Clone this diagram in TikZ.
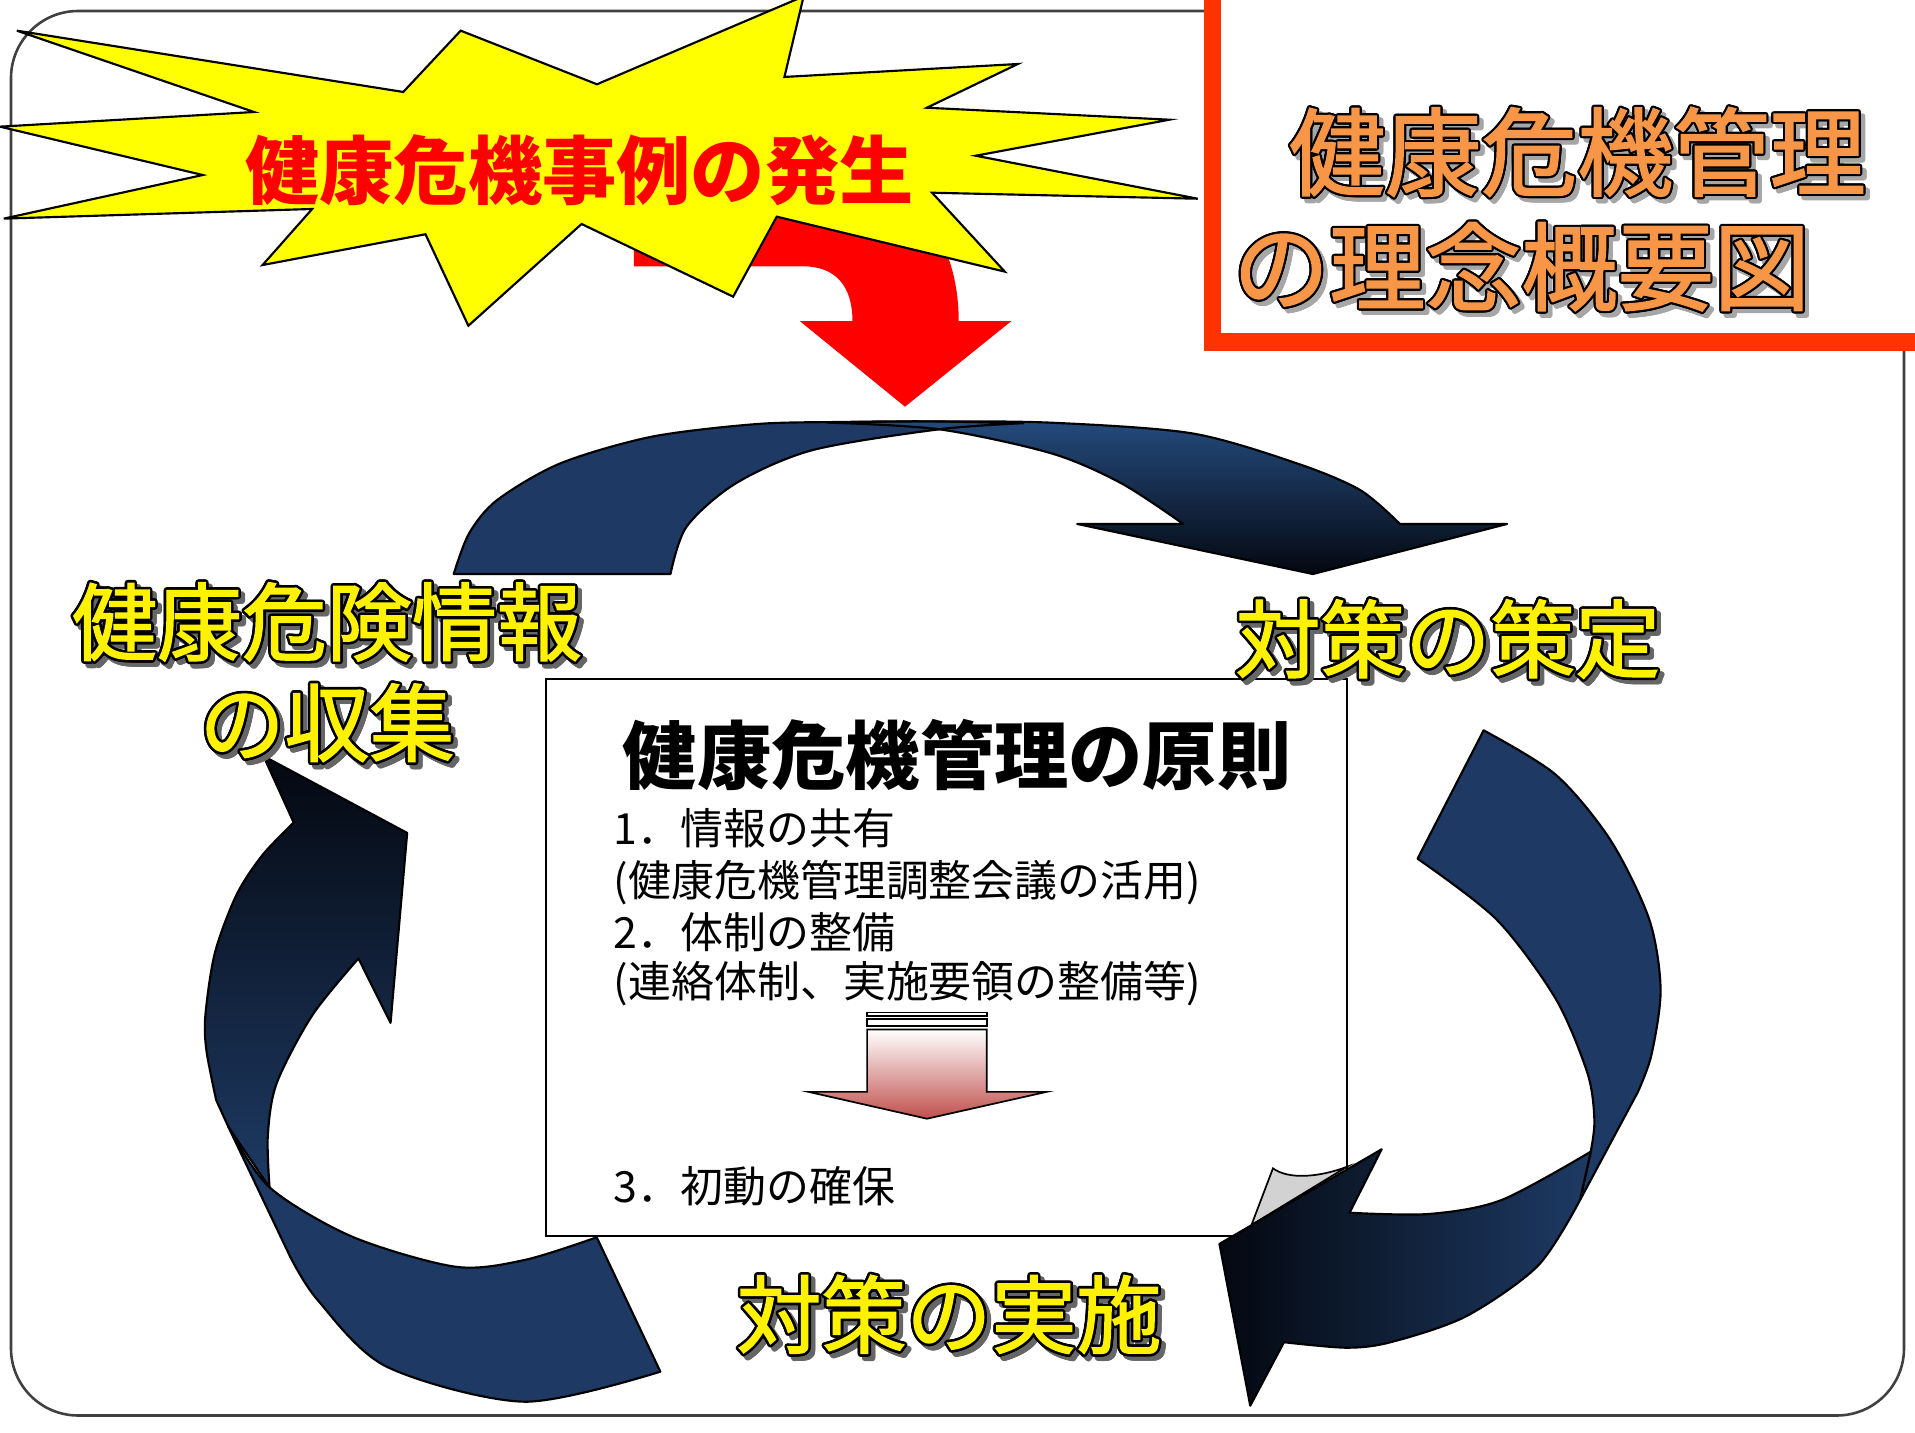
\documentclass[tikz,border=0pt]{standalone}
\usepackage{fontspec}
\usepackage{contour}
\newfontfamily\jpfont{Noto Sans CJK JP}
\newfontfamily\jpheavy{Noto Sans CJK JP}[FakeBold=1.6]

\definecolor{navy}{RGB}{30,58,100}
\definecolor{navylight}{RGB}{36,74,124}
\definecolor{navydark}{RGB}{4,8,16}
\definecolor{starfill}{RGB}{255,255,0}
\definecolor{titlered}{RGB}{255,51,0}
\definecolor{titleorange}{RGB}{247,150,70}
\definecolor{curlgray}{RGB}{210,210,210}
\definecolor{pinkred}{RGB}{192,80,77}

% outlined text with a drop shadow: outline width, fill, shadow, text
\newcommand\ringed[4]{%
  \contourlength{#1}%
  \makebox[0pt][l]{\hspace*{1pt}\raisebox{-1pt}{\color{#3}\contour{#3}{#4}}}%
  {\color{#2}\contour{black}{#4}}}

\tikzset{
  band/.style={draw=black, line width=0.5pt, line join=round},
  cyclelabel/.style={font=\jpheavy\fontsize{19.8}{24}\selectfont, inner sep=0pt},
  bigtitle/.style={font=\jpheavy\fontsize{22.4}{27}\selectfont, inner sep=0pt},
  itemline/.style={font=\jpfont\fontsize{10}{12}\selectfont, anchor=base west, inner sep=0pt},
}

\begin{document}
\begin{tikzpicture}[x=0.1mm, y=-0.1mm]
\useasboundingbox (0,0) rectangle (1568,1173);
\clip (0,0) rectangle (1568,1173);

% frame
\draw[black!75, line width=0.6pt, rounded corners=5.5mm] (9,9) rectangle (1559,1159);

% red arrow behind the star
\fill[red] (519,131) -- (655,131) .. controls (735,131) and (785,185) .. (785,263)
  -- (828,263) -- (741,333) -- (655,263) -- (698,263)
  .. controls (698,235) and (685,218) .. (657,218) -- (519,218) -- cycle;

% explosion
\draw[fill=starfill, line width=0.5pt] (13.8,25.1) -- (208,91.7) -- (0,103.7) -- (166,143.3)
  -- (3.1,179) -- (255.6,171.1) -- (215,217) -- (348.4,191.8) -- (383.5,266.7)
  -- (476.2,183.4) -- (600.3,242.9) -- (636,177.4) -- (822.7,222.4) -- (763.2,157.8)
  -- (980.7,162.7) -- (798.9,127.5) -- (957.5,98) -- (758.9,88.2) -- (833.4,52.4)
  -- (642.3,63) -- (658,-3) -- (488.8,69) -- (377.2,25.1) -- (330.2,75.3) -- cycle;
\node[font=\jpfont\bfseries\fontsize{17.3}{20}\selectfont, text=red, inner sep=0pt] (event) at (474.5,139) {健康危機事例の発生};

% title box
\draw[titlered, fill=white, line width=1.4mm] (993,-20) rectangle (1580,280);
\node[bigtitle] (title1) at (1291.5,127) {\ringed{0.5pt}{titleorange}{black!35}{健康危機管理}};
\node[bigtitle] (title2) at (1245.8,221) {\ringed{0.5pt}{titleorange}{black!35}{の理念概要図}};

% upper arrow
\path[save path=\topleft] (549,470) -- (371.5,470)
  -- plot[smooth] coordinates {(371.5,470) (384.1,436.7) (407.1,409.4) (458.8,379.4) (533.5,357.6) (619.6,347.2) (688.5,345.5) (760,345) (838,346.5)}
  -- plot[smooth] coordinates {(838,346.5) (769,351.5) (665.5,368.5) (602.4,395.8) (562.2,431.2) (549,470)} -- cycle;
\fill[navy, use path=\topleft];
\shade[band, top color=navylight, bottom color=navydark] (677,346)
  -- plot[smooth] coordinates {(677,346) (760,345) (860.9,346.1) (975.8,354.8) (1061.9,379.4) (1113.6,401.2) (1146.3,429)}
  -- (1234,429) -- (1075,470) -- (882,429) -- (968.8,429)
  -- plot[smooth] coordinates {(968.8,429) (918.3,395.8) (860.9,371.2) (769,351.5) (677,346)} -- cycle;
\draw[band, use path=\topleft];

% left arrow
\shade[band, top color=navydark, bottom color=navy] (215.7,619) -- (333.4,682) -- (319.8,837.5) -- (293.5,784.8)
  -- plot[smooth] coordinates {(293.5,784.8) (255.9,831) (226.6,886.8) (219.3,929.6) (220.7,972.2)}
  -- (186.9,922.5) -- (177,900.7)
  -- plot[smooth] coordinates {(177,900.7) (169,860) (168.2,831) (176,780) (193.7,732.6) (215,700) (240.5,673.5)} -- cycle;
\filldraw[band, fill=navy] (186.9,922.5)
  -- plot[smooth] coordinates {(186.9,922.5) (220.7,972.2) (288.4,1012.6) (373,1037.2) (429.4,1031.7) (488.6,1013.1)}
  -- (540.7,1123.1)
  -- plot[smooth] coordinates {(540.7,1123.1) (429.4,1147.7) (316.5,1119) (260.1,1064.5) (237.6,1029)} -- cycle;

% principles box
\draw[fill=white, line width=0.5pt] (447,556) rectangle (1103,1012);
\node[font=\jpfont\bfseries\fontsize{17.3}{20}\selectfont, inner sep=0pt] (boxtitle) at (783.7,618) {健康危機管理の原則};
\node[itemline] (item1) at (502,691.3) {1．情報の共有};
\node[itemline] (item2) at (502,733.9) {(健康危機管理調整会議の活用)};
\node[itemline] (item3) at (502,776.3) {2．体制の整備};
\node[itemline] (item4) at (502,816.9) {(連絡体制、実施要領の整備等)};
\node[itemline] (item5) at (502,984.3) {3．初動の確保};

% small arrow in the box
\draw[fill=white, line width=0.4pt] (710,829) rectangle (808,832);
\draw[fill=white, line width=0.4pt] (710,834.5) rectangle (808,840);
\shade[top color=white, bottom color=pinkred, draw=black, line width=0.4pt]
  (710,843) -- (808,843) -- (808,894) -- (857,894) -- (759,916) -- (662,894) -- (710,894) -- cycle;

% folded corner
\filldraw[fill=curlgray, line width=0.4pt] (1024.7,1003) -- (1042.3,956.6)
  .. controls (1055,966) and (1080,964) .. (1103,955.3) -- cycle;

% right arrow
\filldraw[band, fill=navy]
  plot[smooth] coordinates {(1160.7,703.1) (1225.3,752.8) (1273.8,817.8) (1299.9,879) (1305.5,917.2) (1302.5,943)}
  -- (1293.7,982.6) -- (1341,894.3)
  -- plot[smooth] coordinates {(1341,894.3) (1352.2,863.7) (1359.7,810.2) (1350.4,752.8) (1318.6,687.8) (1273.8,634.3) (1214.8,598)} -- cycle;
\shade[band, left color=navydark, right color=navy]
  plot[smooth] coordinates {(1302.5,943) (1229.4,982.6) (1170,994) (1105,993)}
  -- (1131.3,941) -- (998.5,1018.5) -- (1023.7,1151) -- (1051.3,1099)
  -- plot[smooth] coordinates {(1051.3,1099) (1103,1103.5) (1139.4,1098.8) (1200,1078) (1258.5,1037.2) (1290.8,988)}
  -- (1293.7,982.6) -- cycle;

% cycle labels
\node[cyclelabel] (collect1) at (267.7,512) {\ringed{0.6pt}{yellow}{black!60}{健康危険情報}};
\node[cyclelabel] (collect2) at (267.8,594.5) {\ringed{0.6pt}{yellow}{black!60}{の収集}};
\node[cyclelabel] (plan) at (1185.5,526) {\ringed{0.6pt}{yellow}{black!60}{対策の策定}};
\node[cyclelabel] (act) at (777,1079) {\ringed{0.6pt}{yellow}{black!60}{対策の実施}};
\end{tikzpicture}
\end{document}
